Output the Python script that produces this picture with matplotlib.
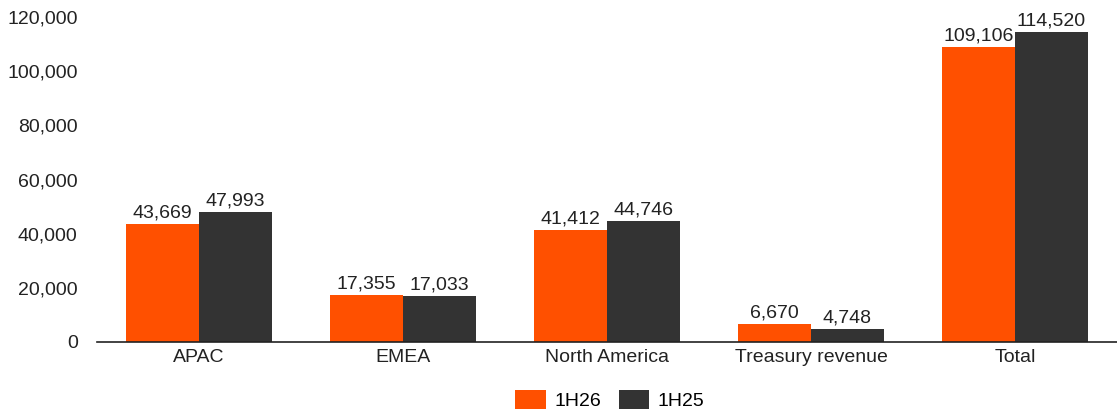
import numpy as np
import matplotlib.pyplot as plt
from matplotlib.ticker import FuncFormatter

plt.rcParams['font.family'] = ['Liberation Sans', 'DejaVu Sans']

categories = ["APAC", "EMEA", "North America", "Treasury revenue", "Total"]
h26 = [43669, 17355, 41412, 6670, 109106]
h25 = [47993, 17033, 44746, 4748, 114520]
series_names = ["1H26", "1H25"]
colors = ["#FF5000", "#333333"]

fig = plt.figure(figsize=(11.17, 4.17), dpi=100)
ax = fig.add_axes([0.087, 0.18, 0.913, 0.779])

x = np.arange(len(categories))
w = 0.357
b1 = ax.bar(x - w/2, h26, w, color=colors[0], label=series_names[0])
b2 = ax.bar(x + w/2, h25, w, color=colors[1], label=series_names[1])

for bars in (b1, b2):
    for r in bars:
        ax.text(r.get_x() + r.get_width()/2, r.get_height() + 900,
                f"{int(r.get_height()):,}", ha='center', va='bottom',
                fontsize=14, color='#222222')

ax.set_xlim(-0.5, 4.5)
ax.set_ylim(0, 120000)
ax.set_yticks(np.arange(0, 120001, 20000))
ax.yaxis.set_major_formatter(FuncFormatter(lambda v, p: f"{int(v):,}"))
ax.set_xticks(x)
ax.set_xticklabels(categories)
ax.tick_params(axis='both', length=0, labelsize=14, colors='#222222')
ax.tick_params(axis='y', pad=14)
ax.tick_params(axis='x', pad=5)

for s in ['top', 'right', 'left']:
    ax.spines[s].set_visible(False)
ax.spines['bottom'].set_color('#222222')
ax.spines['bottom'].set_linewidth(1.2)

fig.legend(loc='lower center', bbox_to_anchor=(0.546, -0.025), ncol=2,
           frameon=False, fontsize=14, handlelength=1.55, handleheight=1.1,
           columnspacing=0.9, handletextpad=0.45)

fig.savefig("out.png", dpi=100)
